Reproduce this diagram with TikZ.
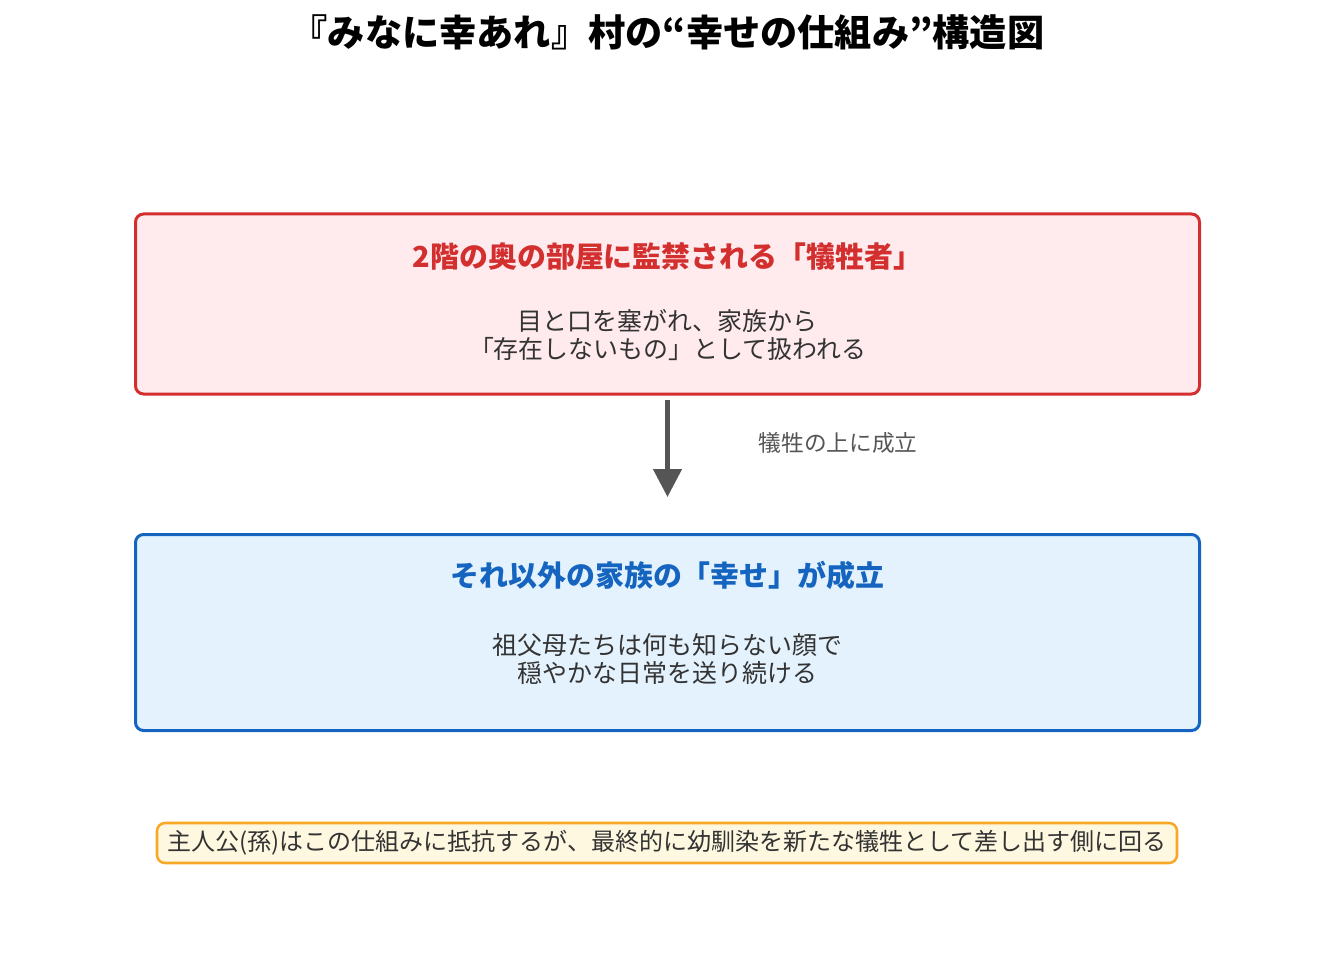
\documentclass[tikz,border=0pt]{standalone}
\usepackage{fontspec}
\setmainfont{Noto Sans CJK JP}
\usetikzlibrary{arrows.meta}
\definecolor{redline}{HTML}{D32F2F}
\definecolor{redfill}{HTML}{FFEBEE}
\definecolor{blueline}{HTML}{1565C0}
\definecolor{bluefill}{HTML}{E3F2FD}
\definecolor{noteline}{HTML}{F9A825}
\definecolor{notefill}{HTML}{FFF8E1}
\definecolor{bodytext}{HTML}{333333}
\definecolor{arrowgray}{HTML}{555555}
\tikzset{
  layerbox/.style={draw, line width=2.25pt, rounded corners=6pt, minimum width=798pt},
  boxtitle/.style={font=\fontsize{21.7}{25}\selectfont\bfseries},
  boxbody/.style={align=center, text=bodytext, font=\fontsize{18.7}{21}\selectfont},
}
\begin{document}
\begin{tikzpicture}[x=0.75pt, y=-0.75pt]
    \useasboundingbox (0,0) rectangle (1335,959);
    % Titolo
    \node (title) at (667.5, 32) {\fontsize{27.9}{32}\selectfont\bfseries 『みなに幸あれ』村の“幸せの仕組み”構造図};
    % Riquadro superiore (sacrificio)
    \node[layerbox, draw=redline, fill=redfill, minimum height=135pt] (victim) at (667.5, 304) {};
    \node[boxtitle, text=redline] (victimtitle) at (667.5, 256) {2階の奥の部屋に監禁される「犠牲者」};
    \node[boxbody] (victimbody) at (667.5, 335) {目と口を塞がれ、家族から\\「存在しないもの」として扱われる};
    % Riquadro inferiore (felicità)
    \node[layerbox, draw=blueline, fill=bluefill, minimum height=147pt] (family) at (667.5, 632.5) {};
    \node[boxtitle, text=blueline] (familytitle) at (667.5, 575) {それ以外の家族の「幸せ」が成立};
    \node[boxbody] (familybody) at (667.5, 659) {祖父母たちは何も知らない顔で\\穏やかな日常を送り続ける};
    % Freccia tra i due livelli
    \draw[-{Triangle[width=21pt, length=21pt]}, line width=3.5pt, arrowgray, shorten <=3pt, shorten >=27pt] (victim.south) -- (family.north);
    \node[text=arrowgray, font=\fontsize{17}{20}\selectfont] (arrowlabel) at (838, 443) {犠牲の上に成立};
    % Nota in basso
    \node[draw=noteline, fill=notefill, line width=1.9pt, rounded corners=6pt, minimum width=765pt, minimum height=30pt, text=bodytext, font=\fontsize{18}{21}\selectfont] (note) at (667, 843) {主人公(孫)はこの仕組みに抵抗するが、最終的に幼馴染を新たな犠牲として差し出す側に回る};
\end{tikzpicture}
\end{document}
